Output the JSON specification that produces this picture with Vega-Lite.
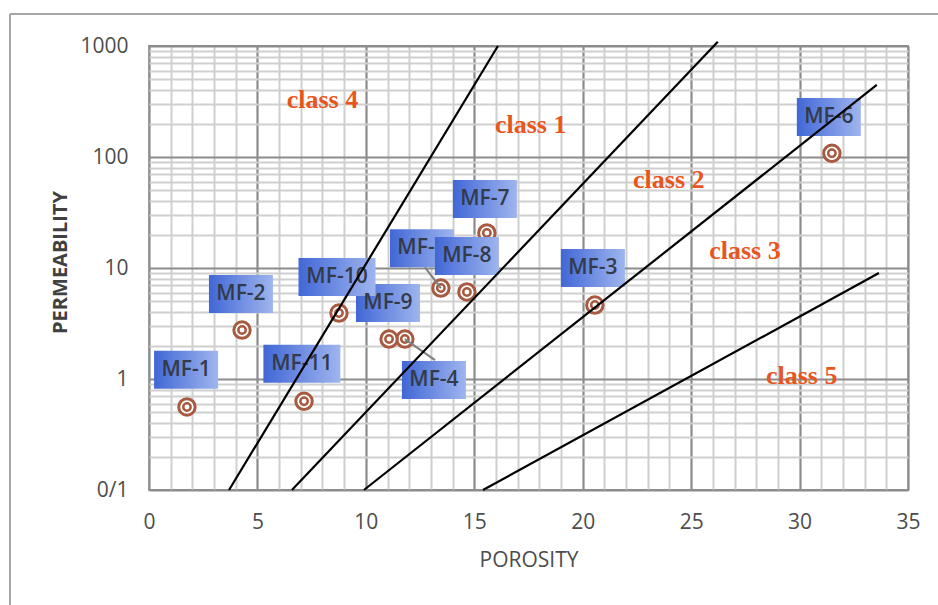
{
"$schema":"https://vega.github.io/schema/vega-lite/v6.json",
"width":759,"height":444,
"autosize":{"type":"none"},
"padding":{"left":149,"top":46,"right":30,"bottom":115},
"background":"white",
"config":{"view":{"stroke":"#8c8c8c","strokeWidth":2},
 "axis":{"ticks":false,"domain":false,"labelFlush":false,"labelFont":"Open Sans","labelFontSize":21,"labelColor":"#4d4d4d","titleFont":"Open Sans","titleColor":"#4d4d4d"}},
"datasets":{
 "pts":[
  {"id":"MF-1","por":1.75,"perm":0.56,"lx":1.71,"ly":1.21},
  {"id":"MF-2","por":4.29,"perm":2.76,"lx":4.24,"ly":5.83},
  {"id":"MF-3","por":20.56,"perm":4.64,"lx":20.47,"ly":10.0},
  {"id":"MF-4","por":11.8,"perm":2.29,"lx":13.14,"ly":0.98},
  {"id":"MF-5","por":13.46,"perm":6.6,"lx":12.59,"ly":15.1},
  {"id":"MF-6","por":31.49,"perm":108,"lx":31.35,"ly":229},
  {"id":"MF-7","por":15.58,"perm":20.7,"lx":15.49,"ly":41.9},
  {"id":"MF-8","por":14.66,"perm":6.08,"lx":14.66,"ly":12.8},
  {"id":"MF-9","por":11.07,"perm":2.29,"lx":11.02,"ly":4.84},
  {"id":"MF-10","por":8.76,"perm":3.93,"lx":8.67,"ly":8.3},
  {"id":"MF-11","por":7.15,"perm":0.63,"lx":7.05,"ly":1.37}
 ],
 "lines":[
  {"line":"A","por":3.69,"perm":0.1},{"line":"A","por":16.09,"perm":1000},
  {"line":"B","por":6.59,"perm":0.1},{"line":"B","por":26.23,"perm":1090},
  {"line":"C","por":9.91,"perm":0.1},{"line":"C","por":33.56,"perm":446},
  {"line":"D","por":15.4,"perm":0.1},{"line":"D","por":33.66,"perm":9.0}
 ],
 "classes":[
  {"label":"class 4","por":8.0,"perm":327},
  {"label":"class 1","por":17.6,"perm":194},
  {"label":"class 2","por":23.97,"perm":62},
  {"label":"class 3","por":27.48,"perm":14.2},
  {"label":"class 5","por":30.1,"perm":1.06}
 ],
 "leaders":[
  {"id":"MF-5","x1":13.46,"y1":6.6,"x2":12.72,"y2":10.2},
  {"id":"MF-4","x1":11.8,"y1":2.29,"x2":13.19,"y2":1.48}
 ],
 "frame":[
  {"x1":-6.41,"y1":1941,"x2":-6.41,"y2":0.0092},
  {"x1":-6.41,"y1":1941,"x2":36.4,"y2":1941}
 ]
},
"resolve":{"axis":{"x":"independent","y":"independent"}},
"layer":[
 {"data":{"name":"pts"},
  "mark":{"type":"point","shape":"circle","filled":true,"fill":"white","stroke":"#a85a40","strokeWidth":3,"size":270,"opacity":1},
  "encoding":{
   "x":{"field":"por","type":"quantitative","scale":{"domain":[0,35],"nice":false,"zero":false},
    "axis":{"orient":"bottom","values":[0,1,2,3,4,5,6,7,8,9,10,11,12,13,14,15,16,17,18,19,20,21,22,23,24,25,26,27,28,29,30,31,32,33,34,35],"grid":true,"gridColor":"#cfcfcf","gridWidth":2,"labels":false,"title":null}},
   "y":{"field":"perm","type":"quantitative","scale":{"type":"log","domain":[0.1,1000],"nice":false},
    "axis":{"orient":"left","values":[0.2,0.3,0.4,0.5,0.6,0.7,0.8,0.9,2,3,4,5,6,7,8,9,20,30,40,50,60,70,80,90,200,300,400,500,600,700,800,900],"grid":true,"gridColor":"#cfcfcf","gridWidth":2,"labels":false,"title":null}}
  }},
 {"data":{"name":"pts"},
  "mark":{"type":"point","shape":"circle","filled":true,"fill":"white","stroke":"#a85a40","strokeWidth":2.5,"size":55,"opacity":1},
  "encoding":{
   "x":{"field":"por","type":"quantitative",
    "axis":{"orient":"bottom","values":[0,5,10,15,20,25,30,35],"grid":true,"gridColor":"#8c8c8c","gridWidth":2,"labelPadding":21,"title":"POROSITY","titleFontSize":21,"titleFontWeight":"normal","titleY":70,"titleBaseline":"middle"}},
   "y":{"field":"perm","type":"quantitative",
    "axis":{"orient":"left","values":[0.1,1,10,100,1000],"grid":true,"gridColor":"#8c8c8c","gridWidth":2,"labelPadding":21,"labelExpr":"datum.value < 0.5 ? '0/1' : format(datum.value, '~g')","title":"PERMEABILITY","titleFontSize":20,"titleFontWeight":"bold","titleColor":"#404040","titleX":-89,"titleY":216,"titleAngle":-90,"titleBaseline":"middle","titleAlign":"center"}}
  }},
 {"data":{"name":"frame"},
  "mark":{"type":"rule","color":"#a6a6a6","strokeWidth":2,"clip":false},
  "encoding":{"x":{"field":"x1","type":"quantitative","axis":null},"y":{"field":"y1","type":"quantitative","axis":null},"x2":{"field":"x2"},"y2":{"field":"y2"}}},
 {"data":{"name":"leaders"},
  "mark":{"type":"rule","color":"#7f7f7f","strokeWidth":2},
  "encoding":{"x":{"field":"x1","type":"quantitative","axis":null},"y":{"field":"y1","type":"quantitative","axis":null},"x2":{"field":"x2"},"y2":{"field":"y2"}}},
 {"data":{"name":"pts"},
  "transform":[{"filter":"datum.id == 'MF-5'"}],
  "mark":{"type":"rect","width":64,"height":38,"fill":{"gradient":"linear","x1":0,"y1":0,"x2":1,"y2":0,"stops":[{"offset":0,"color":"#4167d6"},{"offset":1,"color":"#9fb5ee"}]}},
  "encoding":{"x":{"field":"lx","type":"quantitative","axis":null},"y":{"field":"ly","type":"quantitative","axis":null}}},
 {"data":{"name":"pts"},
  "transform":[{"filter":"datum.id == 'MF-5'"}],
  "mark":{"type":"text","font":"Open Sans","fontSize":21,"fontWeight":600,"color":"#333b4a","align":"center","baseline":"middle"},
  "encoding":{"x":{"field":"lx","type":"quantitative","axis":null},"y":{"field":"ly","type":"quantitative","axis":null},"text":{"field":"id"}}},
 {"data":{"name":"pts"},
  "transform":[{"filter":"datum.id != 'MF-5' && length(datum.id) <= 4"}],
  "mark":{"type":"rect","width":64,"height":38,"fill":{"gradient":"linear","x1":0,"y1":0,"x2":1,"y2":0,"stops":[{"offset":0,"color":"#4167d6"},{"offset":1,"color":"#9fb5ee"}]}},
  "encoding":{"x":{"field":"lx","type":"quantitative","axis":null},"y":{"field":"ly","type":"quantitative","axis":null}}},
 {"data":{"name":"pts"},
  "transform":[{"filter":"length(datum.id) > 4"}],
  "mark":{"type":"rect","width":77,"height":38,"fill":{"gradient":"linear","x1":0,"y1":0,"x2":1,"y2":0,"stops":[{"offset":0,"color":"#4167d6"},{"offset":1,"color":"#9fb5ee"}]}},
  "encoding":{"x":{"field":"lx","type":"quantitative","axis":null},"y":{"field":"ly","type":"quantitative","axis":null}}},
 {"data":{"name":"pts"},
  "transform":[{"filter":"datum.id != 'MF-5'"}],
  "mark":{"type":"text","font":"Open Sans","fontSize":21,"fontWeight":600,"color":"#333b4a","align":"center","baseline":"middle"},
  "encoding":{"x":{"field":"lx","type":"quantitative","axis":null},"y":{"field":"ly","type":"quantitative","axis":null},"text":{"field":"id"}}},
 {"data":{"name":"lines"},
  "mark":{"type":"line","color":"black","strokeWidth":2.2,"clip":false},
  "encoding":{"x":{"field":"por","type":"quantitative","axis":null},"y":{"field":"perm","type":"quantitative","axis":null},"detail":{"field":"line"}}},
 {"data":{"name":"classes"},
  "mark":{"type":"text","font":"Liberation Serif","fontSize":26,"fontWeight":"bold","color":"#e8561e","align":"center","baseline":"middle"},
  "encoding":{"x":{"field":"por","type":"quantitative","axis":null},"y":{"field":"perm","type":"quantitative","axis":null},"text":{"field":"label"}}}
]
}
